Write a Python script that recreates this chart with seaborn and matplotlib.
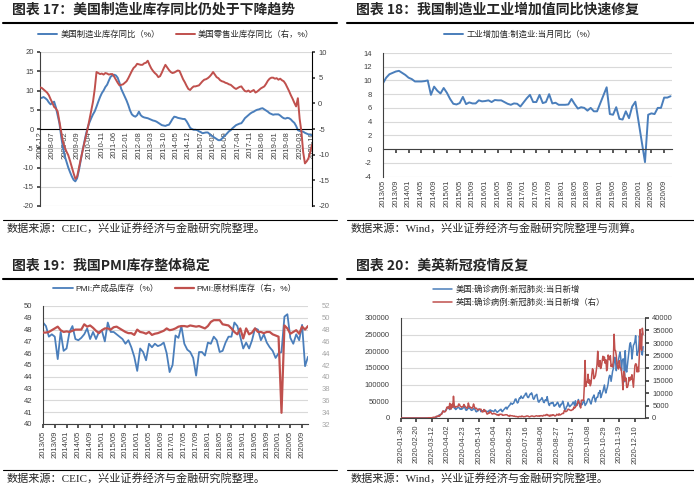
import numpy as np
import pandas as pd
import seaborn as sns
import matplotlib.pyplot as plt
from matplotlib.lines import Line2D
from matplotlib.ticker import StrMethodFormatter

sns.set_theme(style="white")
plt.rcParams["font.family"] = ["Liberation Sans", "Noto Sans CJK SC"]
plt.rcParams["axes.unicode_minus"] = False

BLUE = "#4A7EBB"
RED = "#C0504D"
GRID = "#D9D9D9"
DARK = "#404040"
CJK = ["Noto Sans CJK SC"]
SERIF_CJK = ["Liberation Serif", "Noto Sans CJK SC"]

# ---------------- data: chart 17 (monthly, 2007-12 .. 2020-10) ----------------
us_mfg_inv = [
    8.0, 8.1, 8.3, 8.0, 7.6, 6.9, 6.4, 6.8, 7.1, 5.6,
    3.6, 1.5, -2.0, -4.8, -7.0, -8.5, -10.0, -11.2, -12.3, -13.2,
    -13.6, -12.8, -10.8, -8.3, -5.8, -3.6, -1.4, 0.4, 1.7, 2.8,
    3.8, 4.6, 5.8, 7.1, 8.3, 9.3, 10.0, 10.9, 11.5, 12.6,
    13.6, 13.9, 14.1, 13.9, 13.3, 12.0, 10.4, 9.4, 8.4, 7.4,
    6.2, 4.8, 3.8, 3.4, 3.2, 3.6, 4.5, 3.6, 3.2, 3.0,
    2.9, 2.8, 2.6, 2.4, 2.2, 2.1, 1.9, 1.6, 1.3, 1.0,
    0.9, 0.8, 1.0, 1.1, 1.8, 2.6, 3.2, 3.1, 2.9, 2.8,
    2.7, 2.6, 2.6, 2.0, 1.2, 0.3, 0.0, -0.2, -0.2, -0.3,
    -0.6, -0.8, -1.1, -1.0, -0.9, -0.9, -1.3, -1.7, -2.0, -2.3,
    -2.6, -2.9, -2.9, -2.5, -2.0, -1.6, -1.1, -0.6, -0.3, 0.2,
    0.6, 1.0, 1.2, 1.4, 1.5, 2.1, 2.8, 3.2, 3.6, 4.0,
    4.3, 4.5, 4.8, 5.0, 5.1, 5.3, 5.4, 5.1, 4.8, 4.5,
    4.1, 3.9, 3.7, 3.8, 3.8, 3.8, 3.5, 3.1, 2.8, 2.7,
    2.9, 2.8, 2.5, 2.0, 1.6, 0.8, -0.3, -0.5, -0.6, -0.7,
    -1.0, -1.2, -1.4, -1.5, -1.6,
]
us_retail_inv = [
    3.1, 3.0, 2.7, 2.4, 2.1, 1.6, 0.8, 0.1, -0.7, -1.0,
    -1.6, -3.6, -5.5, -7.5, -8.6, -9.4, -10.1, -11.2, -12.4, -13.6,
    -14.7, -14.3, -12.6, -11.0, -9.4, -7.9, -6.4, -4.9, -3.2, -1.4,
    0.3, 2.8, 6.1, 5.9, 5.7, 5.8, 5.6, 5.9, 5.8, 5.6,
    5.7, 5.7, 5.2, 4.6, 4.0, 3.5, 3.6, 3.7, 4.0, 4.3,
    4.9, 5.6, 6.3, 6.9, 7.2, 7.7, 7.6, 7.5, 7.5, 7.8,
    7.9, 8.3, 7.5, 6.8, 6.3, 5.9, 5.6, 5.1, 5.3, 6.0,
    6.8, 7.5, 7.0, 6.5, 6.1, 5.9, 6.0, 6.2, 6.4, 6.3,
    5.5, 4.7, 4.1, 3.4, 2.8, 2.6, 3.0, 3.3, 3.3, 3.4,
    3.5, 3.9, 4.3, 4.6, 4.7, 4.9, 5.2, 5.6, 6.1, 5.6,
    5.1, 4.9, 4.5, 4.3, 4.2, 4.0, 3.9, 3.7, 3.6, 3.3,
    3.0, 2.8, 3.0, 3.2, 3.3, 2.8, 2.4, 2.3, 2.5, 2.2,
    2.4, 2.6, 2.1, 2.3, 2.6, 2.9, 3.1, 3.3, 3.8, 4.4,
    4.8, 5.0, 5.0, 4.8, 4.9, 4.6, 4.8, 4.5, 4.3, 3.8,
    3.1, 2.4, 1.6, 0.9, 0.1, -0.6, 1.0, -3.0, -5.5, -9.5,
    -11.7, -11.3, -10.7, -9.5, -8.1,
]
months_17 = pd.period_range("2007-12", periods=len(us_mfg_inv), freq="M").strftime("%Y-%m")

# ---------------- data: chart 18 (monthly, 2013/05 .. 2020/11) ----------------
nan = np.nan
cn_mfg_va = [
    9.6, 10.4, 10.9, 11.1, 11.3, 11.4, 11.1, 10.8, 10.4, 10.2,
    9.85, 9.85, 9.85, 9.9, 10.0, 7.9, 9.1, 8.5, 8.1, 8.9,
    8.2, 7.3, 6.6, 6.5, 6.7, 7.6, 6.55, 6.8, 6.65, 6.65,
    7.1, 6.95, 7.0, 7.1, 6.85, 7.15, 7.1, 7.1, 6.85, 6.6,
    6.45, 6.65, 6.6, 6.2, 6.8, 7.4, 7.9, 6.85, 6.85, 7.9,
    6.7, 6.85, 8.0, 6.65, 6.75, 6.45, 6.45, 6.45, 6.5, 7.3,
    6.55, 5.9, 6.1, 6.0, 5.6, 6.0, 5.5, 5.5, nan, nan,
    9.0, 5.1, 5.0, 6.1, 4.4, 4.3, 5.5, 4.5, 6.2, 6.9,
    nan, nan, -1.9, 5.0, 5.2, 5.1, 6.0, 6.0, 7.5, 7.5,
    7.7,
]
months_18 = pd.period_range("2013-05", periods=len(cn_mfg_va), freq="M").strftime("%Y/%m")

# ---------------- data: chart 19 (monthly, 2013/05 .. 2020/11) ----------------
pmi_finished = [
    48.6, 48.3, 47.4, 47.6, 47.4, 45.5, 47.8, 46.2, 46.4, 47.8,
    48.3, 47.2, 47.1, 47.3, 47.6, 48.1, 47.2, 47.8, 47.2, 47.8,
    47.9, 47.0, 48.6, 47.8, 47.8, 47.6, 47.4, 47.2, 46.8, 47.1,
    46.5, 45.7, 44.5, 46.4, 46.1, 45.4, 46.8, 46.5, 46.8, 46.6,
    46.7, 46.9, 46.0, 44.4, 45.0, 47.5, 47.3, 48.3, 46.8, 46.3,
    46.1, 45.6, 44.1, 46.1, 46.1, 45.8, 46.9, 46.8, 47.4, 47.1,
    46.1, 46.2, 46.9, 47.4, 47.4, 48.6, 48.3, 47.4, 46.4, 46.9,
    46.4, 47.1, 48.1, 48.0, 47.1, 47.6, 46.9, 46.5, 46.2, 45.6,
    46.0, 46.1, 49.1, 49.3, 47.3, 46.8, 47.6, 47.1, 48.4, 44.9,
    45.7,
]
pmi_raw = [
    47.5, 47.5, 47.6, 47.9, 48.2, 48.5, 47.9, 47.6, 47.7, 47.6,
    47.8, 48.0, 48.0, 48.0, 48.9, 48.5, 48.7, 48.3, 47.8, 47.4,
    47.9, 48.2, 48.2, 48.0, 48.4, 48.5, 48.2, 47.9, 47.6, 47.4,
    47.4, 47.1, 48.0, 47.6, 47.5, 47.3, 47.6, 47.1, 47.3, 47.4,
    47.6, 47.8, 48.2, 47.9, 48.0, 48.2, 48.5, 48.6, 48.6, 48.5,
    48.7, 48.6, 48.5, 48.6, 48.4, 48.2, 48.6, 49.3, 49.6, 49.6,
    49.6, 48.9, 48.8, 48.7, 48.2, 47.6, 47.2, 48.2, 46.5, 48.2,
    47.2, 47.5, 48.2, 47.6, 47.6, 47.4, 47.6, 47.6, 47.2, 47.0,
    46.8, 33.9, 48.7, 48.2, 47.3, 47.6, 47.9, 47.3, 48.5, 48.0,
    48.6,
]
months_19 = pd.period_range("2013-05", periods=len(pmi_finished), freq="M").strftime("%Y/%m")

# ---------------- data: chart 20 (daily new cases, thousands, from 2020-01-30) ----------------
us_new_k = [0.0] * 31 + [
    0.0, 0.0, 0.0, 0.0, 0.1, 0.1, 0.1,
    0.1, 0.2, 0.3, 0.4, 0.5, 0.6, 0.8,
    1.0, 1.3, 1.9, 2.7, 4.5, 5.6, 6.8,
    9.1, 10.4, 10.5, 12.6, 18.0, 19.4, 19.8,
    19.5, 21.6, 25.2, 27.1, 29.7, 33.0, 34.0,
    25.3, 29.6, 31.6, 31.9, 33.5, 35.0, 30.0,
    28.3, 25.4, 27.3, 30.1, 31.8, 32.0, 29.3,
    26.0, 27.5, 26.0, 28.3, 29.9, 38.2, 33.2,
    26.5, 23.0, 24.0, 27.3, 30.0, 31.5, 28.5,
    25.1, 23.0, 23.6, 24.8, 28.8, 27.0, 25.6,
    19.8, 18.6, 21.7, 21.4, 26.8, 25.5, 24.8,
    18.9, 22.0, 20.5, 21.8, 23.5, 24.3, 21.9,
    20.0, 18.8, 19.9, 18.5, 22.7, 23.6, 24.0,
    20.3, 21.6, 20.8, 19.8, 21.0, 25.1, 22.1,
    18.2, 17.2, 19.3, 21.6, 23.0, 25.6, 26.0,
    20.0, 19.2, 23.2, 25.6, 28.0, 31.4, 32.3,
    26.6, 31.5, 34.1, 37.3, 39.2, 45.0, 43.5,
    41.0, 43.5, 44.5, 51.0, 56.5, 57.0, 49.5,
    45.0, 47.0, 56.0, 60.5, 58.5, 66.0, 61.5,
    59.0, 61.0, 66.5, 68.0, 74.0, 74.5, 65.5,
    61.5, 61.5, 67.0, 71.5, 71.0, 75.5, 69.5,
    59.0, 56.0, 60.0, 67.5, 68.0, 71.0, 59.0,
    49.0, 47.5, 53.0, 54.0, 57.0, 61.0, 55.5,
    48.0, 46.0, 53.0, 55.0, 52.0, 64.0, 52.0,
    42.0, 37.5, 43.5, 45.0, 43.5, 46.5, 46.5,
    36.0, 35.5, 40.0, 39.5, 44.5, 47.5, 43.0,
    35.0, 32.5, 41.0, 39.5, 43.5, 50.5, 43.0,
    30.5, 24.0, 26.0, 34.5, 36.0, 46.5, 40.0,
    34.0, 35.5, 38.5, 39.5, 44.0, 48.0, 43.0,
    37.0, 51.5, 38.0, 38.5, 44.0, 55.5, 47.0,
    34.5, 36.0, 42.0, 40.0, 45.5, 54.5, 49.0,
    37.5, 41.0, 44.5, 51.0, 57.0, 57.5, 54.5,
    46.0, 42.0, 51.5, 60.0, 64.0, 69.0, 57.5,
    48.5, 58.5, 62.5, 62.5, 75.5, 74.0, 82.5,
    61.0, 66.0, 74.5, 79.5, 89.5, 99.0, 82.5,
    75.0, 84.5, 92.0, 103.0, 120.0, 128.0, 126.0,
    110.0, 125.0, 140.0, 148.0, 165.0, 182.0, 170.0,
    142.0, 162.0, 165.0, 175.0, 188.0, 198.0, 180.0,
    142.0, 172.0, 177.0, 177.0, 109.0, 202.0, 147.0,
    138.0, 160.0, 180.0, 200.0, 219.0, 226.0, 213.0,
    177.0, 196.0, 218.0, 222.0, 229.0, 247.0, 218.0,
    188.0, 198.0, 200.0, 246.0, 233.0, 253.0, 196.0,
    189.0, 214.0,
]
uk_new_k = [0.0] * 31 + [
    0.0, 0.0, 0.0, 0.0, 0.0, 0.0, 0.1,
    0.1, 0.1, 0.1, 0.1, 0.1, 0.2, 0.3,
    0.2, 0.3, 0.4, 0.7, 0.6, 0.7, 1.0,
    0.7, 1.0, 1.5, 1.5, 2.1, 2.9, 2.5,
    2.4, 2.6, 3.0, 4.3, 4.2, 4.5, 3.7,
    5.9, 3.8, 3.6, 5.5, 4.3, 8.7, 5.2,
    4.3, 4.3, 4.6, 4.6, 4.6, 5.6, 5.5,
    4.7, 4.5, 4.3, 4.5, 4.6, 5.4, 4.9,
    4.5, 4.3, 3.9, 4.1, 6.0, 4.8, 4.3,
    4.3, 4.0, 3.9, 4.4, 5.6, 4.6, 3.9,
    3.9, 3.9, 3.4, 3.2, 3.4, 3.6, 3.5,
    3.5, 2.7, 2.4, 2.5, 3.4, 2.6, 2.9,
    2.4, 1.6, 1.6, 2.0, 1.9, 2.6, 2.4,
    1.9, 1.6, 1.6, 1.9, 1.8, 1.6, 1.6,
    1.3, 1.2, 1.4, 1.0, 1.5, 1.5, 1.4,
    1.5, 1.1, 1.1, 1.2, 1.2, 1.3, 1.3,
    1.3, 0.96, 0.9, 0.65, 1.1, 0.9, 0.9,
    0.9, 0.8, 0.7, 0.8, 0.6, 0.6, 0.6,
    0.5, 0.35, 0.6, 0.6, 0.6, 0.5, 0.8,
    0.65, 0.5, 0.55, 0.55, 0.6, 0.8, 0.8,
    0.8, 0.6, 0.45, 0.55, 0.7, 0.8, 0.8,
    0.7, 0.6, 0.6, 0.75, 0.85, 0.9, 0.75,
    0.75, 0.9, 0.7, 0.9, 0.95, 0.85, 0.75,
    1.1, 1.0, 1.1, 1.0, 1.4, 1.4, 1.0,
    1.1, 0.7, 1.2, 0.8, 1.2, 1.0, 1.3,
    1.2, 0.85, 0.85, 1.05, 1.5, 1.3, 1.1,
    1.7, 1.2, 1.3, 1.5, 1.7, 1.9, 1.8,
    3.0, 2.9, 2.5, 2.7, 2.9, 3.5, 3.5,
    3.3, 3.1, 3.0, 3.1, 3.4, 3.4, 4.4,
    4.0, 4.4, 4.9, 5.0, 6.2, 6.9, 6.0,
    5.7, 4.0, 7.1, 7.1, 7.1, 6.9, 12.9,
    23.0, 12.6, 14.5, 14.2, 17.5, 13.9, 15.2,
    12.9, 13.9, 17.2, 19.7, 18.9, 15.7, 16.2,
    16.9, 18.8, 21.3, 26.7, 21.2, 20.5, 23.0,
    19.8, 20.9, 22.9, 24.7, 23.1, 24.4, 21.9,
    23.3, 18.9, 20.0, 25.2, 24.1, 23.3, 24.9,
    20.6, 21.4, 20.4, 22.9, 33.5, 27.3, 26.9,
    24.9, 21.4, 20.1, 19.6, 22.9, 20.3, 19.9,
    18.7, 15.5, 11.3, 18.6, 17.6, 14.9, 16.0,
    12.2, 12.3, 13.4, 16.2, 14.9, 16.3, 15.5,
    17.3, 14.7, 12.3, 16.6, 20.9, 21.7, 21.5,
    18.4, 20.3, 18.5, 25.2, 35.4, 28.5, 27.1,
    35.9, 33.4,
]

# ---------------- layout helpers (pixel -> figure coords) ----------------
W, H = 694, 491
fig = plt.figure(figsize=(W / 100, H / 100), dpi=100)


def fx(px):
    return px / W


def fy(py):
    return 1 - py / H


def box(x0, y0, x1, y1):
    return fig.add_axes([fx(x0), fy(y1), (x1 - x0) / W, (y1 - y0) / H])


def frame(x0, x1, y_title, title, y_src, source):
    fig.text(fx(x0 + 9), fy(y_title), title, fontsize=10, fontweight="bold",
             family=CJK, va="center", ha="left")
    fig.add_artist(Line2D([fx(x0), fx(x1)], [fy(y_title + 12.5)] * 2,
                          color="black", lw=1.5, transform=fig.transFigure))
    fig.add_artist(Line2D([fx(x0), fx(x1)], [fy(y_src - 8.5)] * 2,
                          color="black", lw=0.8, transform=fig.transFigure))
    fig.text(fx(x0 + 4), fy(y_src), source, fontsize=8, family=SERIF_CJK,
             va="center", ha="left")


def legend(ax, handles, labels, cx, cy, ncol):
    ax.legend(handles, labels, loc="center", bbox_to_anchor=(fx(cx), fy(cy)),
              bbox_transform=fig.transFigure, ncol=ncol, frameon=False,
              fontsize=6, handlelength=2.3, handletextpad=0.35,
              columnspacing=1.9, borderaxespad=0, borderpad=0,
              labelspacing=0.45)


def clean(ax, keep):
    for s in ["top", "bottom", "left", "right"]:
        ax.spines[s].set_visible(s in keep)
        ax.spines[s].set_color(DARK)
        ax.spines[s].set_linewidth(0.8)
    ax.set_xlabel("")
    ax.set_ylabel("")


# ---------------- chart 17 ----------------
frame(3, 337, 10, "图表 17：美国制造业库存同比仍处于下降趋势", 228,
      "数据来源：CEIC，兴业证券经济与金融研究院整理。")
ax = box(40, 52, 312, 206)
x17 = np.arange(len(us_mfg_inv))
sns.lineplot(x=x17, y=us_mfg_inv, ax=ax, color=BLUE, linewidth=1.4, legend=False)
axr = ax.twinx()
sns.lineplot(x=np.arange(len(us_retail_inv)), y=us_retail_inv, ax=axr,
             color=RED, linewidth=1.4, legend=False)
ax.set_xlim(0, len(x17) - 1)
ax.set_ylim(-20, 20)
ax.set_yticks(np.arange(-20, 21, 5))
axr.set_ylim(-20, 10)
axr.set_yticks(np.arange(-20, 11, 5))
ax.set_xticks(x17[::7], labels=months_17[::7])
ax.grid(axis="y", color=GRID, lw=0.8)
ax.set_axisbelow(True)
clean(ax, ["left", "bottom"])
clean(axr, ["right"])
ax.spines["bottom"].set_position(("data", 0))
ax.spines["bottom"].set_color("black")
axr.spines["right"].set_color("black")
ax.tick_params(axis="x", bottom=True, length=0, rotation=90, labelsize=5.5,
               colors=DARK, pad=1.5)
ax.tick_params(axis="y", left=True, length=2.5, labelsize=5.5, colors=DARK, pad=2)
axr.tick_params(axis="y", right=True, length=2.5, labelsize=5.5, colors=DARK, pad=2)
legend(axr, [ax.lines[0], axr.lines[0]],
       ["美国制造业库存同比（%）", "美国零售业库存同比（右，%）"], 176, 35, 2)

# ---------------- chart 18 ----------------
frame(347, 694, 10, "图表 18：我国制造业工业增加值同比快速修复", 228,
      "数据来源：Wind，兴业证券经济与金融研究院整理与测算。")
ax = box(383, 53, 671.5, 176.5)
va = pd.DataFrame({"m": np.arange(len(cn_mfg_va)), "v": cn_mfg_va}).dropna()
sns.lineplot(data=va, x="m", y="v", ax=ax, color=BLUE, linewidth=1.4)
ax.set_xlim(0, len(cn_mfg_va) - 0.7)
ax.set_ylim(-4, 14)
ax.set_yticks(np.arange(-4, 15, 2))
ax.grid(axis="y", color=GRID, lw=0.8)
ax.set_axisbelow(True)
clean(ax, ["left", "bottom"])
ax.spines["bottom"].set_position(("data", 0))
ax.set_xticks(np.arange(4, len(cn_mfg_va) - 1, 4))
ax.tick_params(axis="x", bottom=True, length=3, labelbottom=False, color=DARK)
ax.tick_params(axis="y", left=False, labelsize=5.5, colors=DARK, pad=2)
sec = ax.secondary_xaxis("bottom")
tick18 = np.arange(0, len(cn_mfg_va) - 1, 4)
sec.set_ticks(tick18, labels=months_18[tick18])
sec.tick_params(axis="x", length=0, labelsize=5.5, rotation=90, colors=DARK, pad=2)
sec.spines["bottom"].set_visible(False)
legend(ax, [ax.lines[0]], ["工业增加值:制造业:当月同比（%）"], 520, 35, 1)

# ---------------- chart 19 ----------------
frame(3, 337, 266, "图表 19：我国PMI库存整体稳定", 478,
      "数据来源：CEIC，兴业证券经济与金融研究院整理。")
ax = box(43, 306, 308, 424)
x19 = np.arange(len(pmi_finished))
sns.lineplot(x=x19, y=pmi_finished, ax=ax, color=BLUE, linewidth=1.3, legend=False)
axr = ax.twinx()
sns.lineplot(x=np.arange(len(pmi_raw)), y=pmi_raw, ax=axr, color=RED,
             linewidth=1.6, legend=False)
ax.set_xlim(0, len(x19) - 1)
ax.set_ylim(40, 50)
ax.set_yticks(np.arange(40, 51, 1))
axr.set_ylim(32, 52)
axr.set_yticks(np.arange(32, 53, 2))
tick19 = np.arange(0, len(x19) - 1, 4)
ax.set_xticks(tick19, labels=months_19[tick19])
ax.grid(axis="y", color=GRID, lw=0.8)
ax.set_axisbelow(True)
clean(ax, ["left", "bottom"])
clean(axr, [])
ax.tick_params(axis="x", bottom=True, length=3, rotation=90, labelsize=5.5,
               colors=DARK, pad=2)
ax.tick_params(axis="y", left=False, labelsize=5.5, colors=DARK, pad=2)
axr.tick_params(axis="y", right=False, labelsize=5.5, colors="#A6A6A6", pad=4)
legend(axr, [ax.lines[0], axr.lines[0]],
       ["PMI:产成品库存（%）", "PMI:原材料库存（右，%）"], 175, 289, 2)

# ---------------- chart 20 ----------------
frame(347, 694, 266, "图表 20：美英新冠疫情反复", 478,
      "数据来源：Wind，兴业证券经济与金融研究院整理。")
ax = box(400.7, 318, 645.3, 418)
d_us = pd.date_range("2020-01-30", periods=len(us_new_k))
d_uk = pd.date_range("2020-01-30", periods=len(uk_new_k))
sns.lineplot(x=d_us, y=np.array(us_new_k) * 1000, ax=ax, color=BLUE,
             linewidth=1.1, legend=False)
axr = ax.twinx()
sns.lineplot(x=d_uk, y=np.array(uk_new_k) * 1000, ax=axr, color=RED,
             linewidth=1.1, legend=False)
ax.set_xlim(pd.Timestamp("2020-01-30"), pd.Timestamp("2020-12-24"))
ax.set_ylim(0, 300000)
ax.set_yticks(np.arange(0, 300001, 50000))
axr.set_ylim(0, 40000)
axr.set_yticks(np.arange(0, 40001, 5000))
ticks20 = pd.date_range("2020-01-30", "2020-12-10", freq="21D")
ax.set_xticks(ticks20, labels=ticks20.strftime("%Y-%m-%d"))
ax.yaxis.set_major_formatter(StrMethodFormatter("{x:.0f}"))
axr.yaxis.set_major_formatter(StrMethodFormatter("{x:.0f}"))
ax.grid(axis="y", color=GRID, lw=0.8)
ax.set_axisbelow(True)
clean(ax, ["left", "bottom"])
clean(axr, ["right"])
ax.tick_params(axis="x", bottom=True, length=3, rotation=90, labelsize=5.5,
               colors=DARK, pad=2)
ax.tick_params(axis="y", left=False, labelsize=5.5, colors=DARK, pad=2)
axr.tick_params(axis="y", right=True, length=3, labelsize=5.5, colors=DARK, pad=2)
legend(axr, [ax.lines[0], axr.lines[0]],
       ["美国:确诊病例:新冠肺炎:当日新增", "英国:确诊病例:新冠肺炎:当日新增（右）"],
       519, 296, 1)

fig.savefig("out.png", dpi=100)
